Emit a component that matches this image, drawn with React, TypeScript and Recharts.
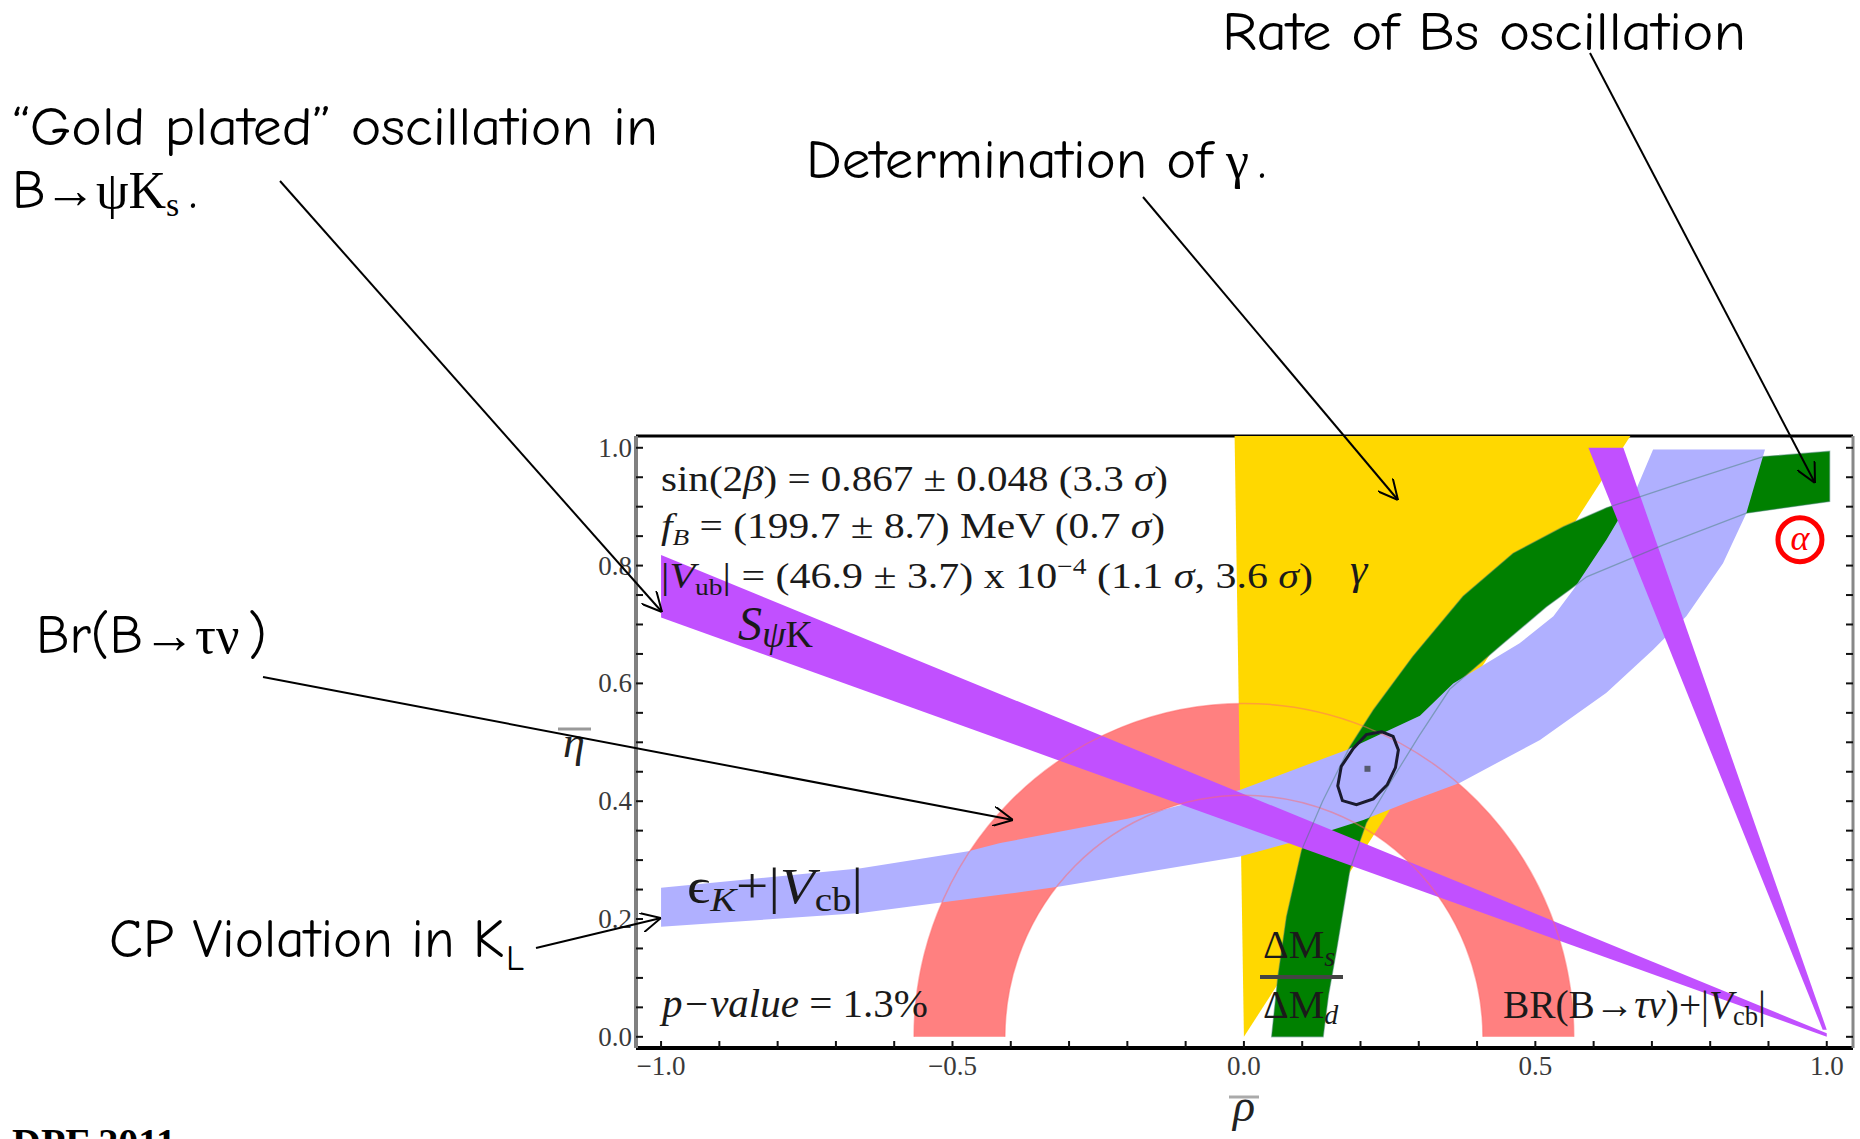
import { ComposedChart, Scatter, XAxis, YAxis } from "recharts";

type Pt = { x: number; y: number };

// plot window in (rho-bar, eta-bar)
const rhoDomain: [number, number] = [-1.043, 1.045];
const etaDomain: [number, number] = [-0.019, 1.02];

const rhoTicks = [
    -1.0, -0.9, -0.8, -0.7, -0.6, -0.5, -0.4, -0.3, -0.2, -0.1, 0.0,
    0.1, 0.2, 0.3, 0.4, 0.5, 0.6, 0.7, 0.8, 0.9, 1.0,
];
const rhoLabels = [-1.0, -0.5, 0.0, 0.5, 1.0];
const etaTicks = [
    0.0, 0.05, 0.1, 0.15, 0.2, 0.25, 0.3, 0.35, 0.4, 0.45, 0.5,
    0.55, 0.6, 0.65, 0.7, 0.75, 0.8, 0.85, 0.9, 0.95, 1.0,
];
const etaLabels = [0.0, 0.2, 0.4, 0.6, 0.8, 1.0];

// BR(B->tau nu)+|Vcb|: half ring round the origin (outer / inner radius)
const tauNuRing: Pt[] = [
    { x: -0.566, y: 0 }, { x: 0, y: 0.566 }, { x: 0.566, y: 0 },
    { x: 0.41, y: 0 }, { x: 0, y: 0.41 }, { x: -0.41, y: 0 },
];

// gamma wedge from the origin
const gammaWedge: Pt[] = [
    { x: 0.0, y: 0.0 }, { x: -0.016, y: 1.02 }, { x: 0.663, y: 1.02 },
];

// dMs/dMd band, outer edge up then inner edge back down
const dmBand: Pt[] = [
    { x: 0.0475, y: 0.0 }, { x: 0.058, y: 0.1 }, { x: 0.073, y: 0.204 },
    { x: 0.099, y: 0.317 }, { x: 0.135, y: 0.4 }, { x: 0.182, y: 0.493 },
    { x: 0.222, y: 0.555 }, { x: 0.29, y: 0.646 }, { x: 0.376, y: 0.748 },
    { x: 0.462, y: 0.821 }, { x: 0.548, y: 0.866 }, { x: 0.622, y: 0.898 },
    { x: 0.75, y: 0.94 }, { x: 0.891, y: 0.985 }, { x: 1.005, y: 0.994 },
    { x: 1.005, y: 0.909 }, { x: 0.862, y: 0.889 }, { x: 0.72, y: 0.835 },
    { x: 0.588, y: 0.781 }, { x: 0.559, y: 0.759 }, { x: 0.519, y: 0.73 },
    { x: 0.439, y: 0.663 }, { x: 0.353, y: 0.59 }, { x: 0.3, y: 0.51 },
    { x: 0.25, y: 0.43 }, { x: 0.21, y: 0.363 }, { x: 0.182, y: 0.284 },
    { x: 0.159, y: 0.148 }, { x: 0.145, y: 0.07 }, { x: 0.136, y: 0.0 },
];

// eps_K + |Vcb| band
const epsKBand: Pt[] = [
    { x: -1.0, y: 0.253 }, { x: -0.657, y: 0.286 }, { x: -0.473, y: 0.315 },
    { x: -0.418, y: 0.329 }, { x: -0.2, y: 0.37 }, { x: -0.007, y: 0.419 },
    { x: 0.176, y: 0.487 }, { x: 0.302, y: 0.545 }, { x: 0.359, y: 0.6 },
    { x: 0.416, y: 0.634 }, { x: 0.473, y: 0.668 }, { x: 0.531, y: 0.714 },
    { x: 0.565, y: 0.759 }, { x: 0.622, y: 0.844 }, { x: 0.673, y: 0.929 },
    { x: 0.702, y: 0.997 },
    { x: 0.894, y: 0.997 }, { x: 0.862, y: 0.889 }, { x: 0.822, y: 0.804 },
    { x: 0.759, y: 0.714 }, { x: 0.702, y: 0.657 }, { x: 0.622, y: 0.584 },
    { x: 0.508, y: 0.504 }, { x: 0.37, y: 0.431 }, { x: 0.28, y: 0.398 },
    { x: 0.205, y: 0.368 }, { x: 0.1, y: 0.335 }, { x: -0.007, y: 0.306 },
    { x: -0.316, y: 0.255 }, { x: -0.418, y: 0.241 }, { x: -0.657, y: 0.21 },
    { x: -1.0, y: 0.187 },
];

// sin(2 beta) wedge closing on (1, 0)
const sPsiKBand: Pt[] = [
    { x: -1.0, y: 0.818 }, { x: 1.0, y: 0.006 }, { x: 1.0, y: 0.0 }, { x: -1.0, y: 0.712 },
];

// steep band from the top edge down to (1, 0)
const alphaBand: Pt[] = [
    { x: 0.591, y: 1.0 }, { x: 0.651, y: 1.0 }, { x: 1.0, y: 0.012 }, { x: 0.993, y: 0.012 },
];

// fit contour and best point
const fitContour: Pt[] = [
    { x: 0.236, y: 0.518 }, { x: 0.256, y: 0.51 }, { x: 0.265, y: 0.487 },
    { x: 0.26, y: 0.457 }, { x: 0.246, y: 0.428 }, { x: 0.222, y: 0.404 },
    { x: 0.193, y: 0.394 }, { x: 0.169, y: 0.401 }, { x: 0.161, y: 0.426 },
    { x: 0.167, y: 0.459 }, { x: 0.188, y: 0.49 }, { x: 0.21, y: 0.513 },
];
const fitPoint: Pt[] = [{ x: 0.212, y: 0.455 }];
const alphaMarker: Pt[] = [{ x: 0.954, y: 0.844 }];

const serif = "'Liberation Serif', 'Times New Roman', serif";
const hand = "'Comic Sans MS', 'Comic Neue', 'Noto Sans', sans-serif";

const fmt = (v: number) => v.toFixed(1).replace("-", "\u2212");

const NoDot = () => <g />;

const BottomTick = (props: any) => {
    const { x, y, payload } = props;
    const v = payload.value;
    return (
        <g>
            <line x1={x} y1={y} x2={x} y2={y - 7} stroke="#111" strokeWidth={2} />
            {rhoLabels.includes(v) && (
                <text x={x} y={y + 27} textAnchor="middle" fontSize={27} fontFamily={serif} fill="#3a3a3a">
                    {fmt(v)}
                </text>
            )}
        </g>
    );
};

const TopTick = (props: any) => (
    <line x1={props.x} y1={props.y} x2={props.x} y2={props.y + 7} stroke="#111" strokeWidth={2} />
);

const LeftTick = (props: any) => {
    const { x, y, payload } = props;
    const v = payload.value;
    return (
        <g>
            <line x1={x} y1={y} x2={x + 7} y2={y} stroke="#111" strokeWidth={2} />
            {etaLabels.includes(v) && (
                <text x={x - 4} y={y + 9} textAnchor="end" fontSize={27} fontFamily={serif} fill="#3a3a3a">
                    {fmt(v)}
                </text>
            )}
        </g>
    );
};

const RightTick = (props: any) => (
    <line x1={props.x} y1={props.y} x2={props.x - 7} y2={props.y} stroke="#111" strokeWidth={2} />
);

const ringPath = (p: { x: number; y: number }[], closed: boolean) => {
    const [oL, oT, oR, iR, iT, iL] = p;
    const ro = `${(oR.x - oL.x) / 2},${oL.y - oT.y}`;
    const ri = `${(iR.x - iL.x) / 2},${iL.y - iT.y}`;
    return closed
        ? `M${oL.x},${oL.y}A${ro} 0 0 1 ${oR.x},${oR.y}L${iR.x},${iR.y}A${ri} 0 0 0 ${iL.x},${iL.y}Z`
        : `M${oL.x},${oL.y}A${ro} 0 0 1 ${oR.x},${oR.y}M${iR.x},${iR.y}A${ri} 0 0 0 ${iL.x},${iL.y}`;
};

const band = (name: string, data: Pt[], fill: string) => (
    <Scatter
        key={name}
        name={name}
        data={data}
        shape={NoDot}
        line={{ fill, stroke: "none" }}
        lineJointType="linearClosed"
        isAnimationActive={false}
    />
);

// callout arrows, from label to target
const callouts = [
    { x1: 280, y1: 181, x2: 662, y2: 612 },
    { x1: 1143, y1: 197, x2: 1398, y2: 500 },
    { x1: 1590, y1: 53, x2: 1815, y2: 483 },
    { x1: 263, y1: 677, x2: 1013, y2: 820 },
    { x1: 536, y1: 948, x2: 661, y2: 918 },
];

function Annotations() {
    const it = { fontStyle: "italic" as const };
    const fit = { lengthAdjust: "spacingAndGlyphs" as const };
    return (
        <svg
            width={1860}
            height={1139}
            style={{ position: "absolute", left: 0, top: 0, pointerEvents: "none" }}
        >
            <defs>
                <marker
                    id="openArrow"
                    viewBox="0 0 20 20"
                    refX={20}
                    refY={10}
                    markerWidth={20}
                    markerHeight={20}
                    markerUnits="userSpaceOnUse"
                    orient="auto"
                >
                    <path d="M0,0 L20,10 L0,20" fill="none" stroke="#000" strokeWidth={2} />
                </marker>
            </defs>

            {/* fit summary */}
            <g fontFamily={serif} fill="#1a1a1a">
                <text x={661} y={491} fontSize={35} textLength={507} {...fit}>
                    sin(2<tspan {...it}>β</tspan>) = 0.867 ± 0.048 (3.3 <tspan {...it}>σ</tspan>)
                </text>
                <text x={661} y={538} fontSize={35} textLength={504} {...fit}>
                    <tspan {...it}>f</tspan>
                    <tspan {...it} fontSize={23} dy={7}>B</tspan>
                    <tspan dy={-7}> = (199.7 ± 8.7) MeV (0.7 </tspan>
                    <tspan {...it}>σ</tspan>)
                </text>
                <text x={661} y={588} fontSize={35} textLength={652} {...fit}>
                    |<tspan {...it}>V</tspan>
                    <tspan fontSize={23} dy={7}>ub</tspan>
                    <tspan dy={-7}>| = (46.9 ± 3.7) x 10</tspan>
                    <tspan fontSize={23} dy={-14}>−4</tspan>
                    <tspan dy={14}> (1.1 </tspan>
                    <tspan {...it}>σ</tspan>, 3.6 <tspan {...it}>σ</tspan>)
                </text>

                <text x={1350} y={584} fontSize={44} {...it}>γ</text>

                <text x={738} y={640} fontSize={48}>
                    <tspan {...it}>S</tspan>
                    <tspan fontSize={38} dy={7}>
                        <tspan {...it}>ψ</tspan>K
                    </tspan>
                </text>

                <text x={687} y={903} fontSize={50} textLength={176} {...fit}>
                    ϵ<tspan {...it} fontSize={34} dy={8}>K</tspan>
                    <tspan dy={-8}>+|</tspan>
                    <tspan {...it}>V</tspan>
                    <tspan fontSize={34} dy={8}>cb</tspan>
                    <tspan dy={-8}>|</tspan>
                </text>

                <text x={662} y={1017} fontSize={40} textLength={266} {...fit}>
                    <tspan {...it}>p−value</tspan> =  1.3%
                </text>

                <text x={1263} y={958} fontSize={40}>
                    ΔM<tspan {...it} fontSize={28} dy={8}>s</tspan>
                </text>
                <line x1={1260} y1={977} x2={1343} y2={977} stroke="#444" strokeWidth={4} />
                <text x={1263} y={1018} fontSize={40}>
                    ΔM<tspan {...it} fontSize={28} dy={6}>d</tspan>
                </text>

                <text x={1503} y={1018} fontSize={40} textLength={263} {...fit}>
                    BR(B→<tspan {...it}>τν</tspan>)+|<tspan {...it}>V</tspan>
                    <tspan fontSize={27} dy={7}>cb</tspan>
                    <tspan dy={-7}>|</tspan>
                </text>
            </g>

            {/* axis titles */}
            <g fontFamily={serif} fill="#222">
                <line x1={558} y1={729} x2={591} y2={729} stroke="#999" strokeWidth={3} />
                <text x={574} y={757} fontSize={44} textAnchor="middle" {...it}>η</text>
                <line x1={1229} y1={1097} x2={1259} y2={1097} stroke="#aaa" strokeWidth={3} />
                <text x={1244} y={1121} fontSize={46} textAnchor="middle" {...it}>ρ</text>
            </g>

            {/* callout labels */}
            <g fill="#000">
                <text x={1222} y={50} fontSize={54} fontFamily={hand} textLength={524} {...fit}>
                    Rate of Bs oscillation
                </text>
                <text x={12} y={145} fontSize={54} fontFamily={hand} textLength={646} {...fit}>
                    “Gold plated” oscillation in
                </text>
                <text x={12} y={208} fontSize={54} fontFamily={hand}>B</text>
                <text x={44} y={208} fontSize={52} fontFamily={serif}>
                    →ψK<tspan fontSize={34} dy={8}>s</tspan>
                </text>
                <text x={189} y={208} fontSize={54} fontFamily={hand}>.</text>

                <text x={806} y={178} fontSize={54} fontFamily={hand} textLength={406} {...fit}>
                    Determination of
                </text>
                <text x={1226} y={178} fontSize={52} fontFamily={serif}>γ</text>
                <text x={1258} y={178} fontSize={54} fontFamily={hand}>.</text>

                <text x={36} y={653} fontSize={54} fontFamily={hand} textLength={107} {...fit}>
                    Br(B
                </text>
                <text x={143} y={653} fontSize={52} fontFamily={serif}>→τν</text>
                <text x={248} y={653} fontSize={54} fontFamily={hand}>)</text>

                <text x={109} y={957} fontSize={54} fontFamily={hand} textLength={395} {...fit}>
                    CP Violation in K
                </text>
                <text x={506} y={970} fontSize={36} fontFamily={hand}>L</text>

                <text x={12} y={1156} fontSize={40} fontFamily={serif} fontWeight="bold">DPF 2011</text>
            </g>

            {callouts.map((c, i) => (
                <line
                    key={i}
                    x1={c.x1}
                    y1={c.y1}
                    x2={c.x2}
                    y2={c.y2}
                    stroke="#000"
                    strokeWidth={2}
                    markerEnd="url(#openArrow)"
                />
            ))}
        </svg>
    );
}

export default function App() {
    return (
        <div
            style={{
                position: "absolute",
                left: 0,
                top: 0,
                width: 1860,
                height: 1139,
                overflow: "hidden",
                background: "#fff",
            }}
        >
            <ComposedChart
                width={1860}
                height={1139}
                margin={{ top: 435, right: 6, bottom: 51, left: 576 }}
            >
                <XAxis
                    dataKey="x"
                    type="number"
                    domain={rhoDomain}
                    ticks={rhoTicks}
                    interval={0}
                    allowDataOverflow
                    height={40}
                    tickSize={0}
                    tickMargin={0}
                    tickLine={false}
                    tick={BottomTick}
                    axisLine={{ stroke: "#000", strokeWidth: 4 }}
                />
                <XAxis
                    xAxisId="top"
                    orientation="top"
                    type="number"
                    domain={rhoDomain}
                    ticks={rhoTicks}
                    interval={0}
                    allowDataOverflow
                    height={1}
                    tickSize={0}
                    tickMargin={0}
                    tickLine={false}
                    tick={TopTick}
                    axisLine={{ stroke: "#000", strokeWidth: 3 }}
                />
                <YAxis
                    dataKey="y"
                    type="number"
                    domain={etaDomain}
                    ticks={etaTicks}
                    interval={0}
                    allowDataOverflow
                    width={60}
                    tickSize={0}
                    tickMargin={0}
                    tickLine={false}
                    tick={LeftTick}
                    axisLine={{ stroke: "#808080", strokeWidth: 4 }}
                />
                <YAxis
                    yAxisId="right"
                    orientation="right"
                    type="number"
                    domain={etaDomain}
                    ticks={etaTicks}
                    interval={0}
                    allowDataOverflow
                    width={1}
                    tickSize={0}
                    tickMargin={0}
                    tickLine={false}
                    tick={RightTick}
                    axisLine={{ stroke: "#888", strokeWidth: 3 }}
                />

                <Scatter
                    name="tauNu"
                    data={tauNuRing}
                    shape={NoDot}
                    line={(p: any) => <path d={ringPath(p.points, true)} fill="#ff8080" stroke="none" />}
                    isAnimationActive={false}
                />
                {band("gamma", gammaWedge, "#ffd800")}
                {band("dm", dmBand, "#008000")}
                {band("epsK", epsKBand, "#b0b0ff")}
                {band("sPsiK", sPsiKBand, "#c150ff")}
                {band("alpha", alphaBand, "#c150ff")}

                {/* faint edges showing through the other bands */}
                <Scatter
                    name="tauNuEdge"
                    data={tauNuRing}
                    shape={NoDot}
                    line={(p: any) => (
                        <path d={ringPath(p.points, false)} fill="none" stroke="#ff6a6a" strokeOpacity={0.5} strokeWidth={1.5} />
                    )}
                    isAnimationActive={false}
                />
                <Scatter
                    name="dmEdge"
                    data={dmBand}
                    shape={NoDot}
                    line={{ fill: "none", stroke: "#3c7c6a", strokeOpacity: 0.45, strokeWidth: 1.3 }}
                    lineJointType="linearClosed"
                    isAnimationActive={false}
                />

                <Scatter
                    name="fit"
                    data={fitContour}
                    shape={NoDot}
                    line={{ fill: "none", stroke: "#1a1a2e", strokeWidth: 3 }}
                    lineJointType="linearClosed"
                    isAnimationActive={false}
                />
                <Scatter
                    name="best"
                    data={fitPoint}
                    shape={(p: any) => <rect x={p.cx - 3} y={p.cy - 3} width={6} height={6} fill="#555a70" />}
                    isAnimationActive={false}
                />
                <Scatter
                    name="alphaTag"
                    data={alphaMarker}
                    shape={(p: any) => (
                        <g>
                            <circle cx={p.cx} cy={p.cy} r={22} fill="#fff" stroke="#ff0000" strokeWidth={5} />
                            <text
                                x={p.cx}
                                y={p.cy + 10}
                                textAnchor="middle"
                                fontSize={36}
                                fontStyle="italic"
                                fontFamily={serif}
                                fill="#ff0000"
                            >
                                α
                            </text>
                        </g>
                    )}
                    isAnimationActive={false}
                />
            </ComposedChart>
            <Annotations />
        </div>
    );
}
